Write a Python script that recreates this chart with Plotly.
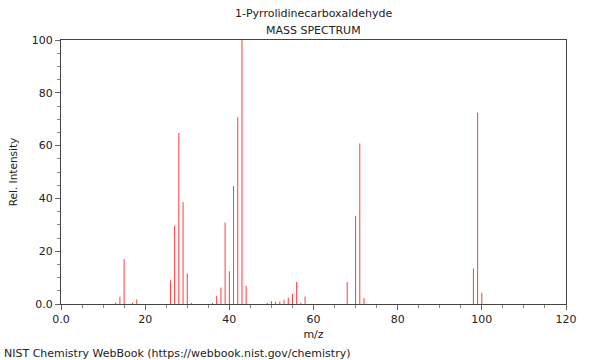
import plotly.graph_objects as go

mz = [13, 14, 15, 17, 18, 26, 27, 28, 29, 30, 31, 36, 37, 38, 39, 40, 41, 42, 43, 44,
      49, 50, 51, 52, 53, 54, 55, 56, 57, 58, 68, 70, 71, 72, 98, 99, 100]
intensity = [0.6, 2.8, 17.0, 0.5, 1.7, 9.0, 29.7, 64.8, 38.6, 11.6, 0.4, 0.4, 3.1, 6.2, 30.8,
             12.4, 44.7, 70.8, 100.0, 6.9, 0.4, 1.1, 0.9, 1.0, 1.6, 2.4, 3.8, 8.3, 0.5, 2.8,
             8.3, 33.4, 60.8, 2.3, 13.4, 72.5, 4.3]

x_ticks = [0, 20, 40, 60, 80, 100, 120]
x_labels = ["0.0", "20", "40", "60", "80", "100", "120"]
y_ticks = [0, 20, 40, 60, 80, 100]
y_labels = ["0.0", "20", "40", "60", "80", "100"]

xs, ys = [], []
for m, v in zip(mz, intensity):
    xs += [m, m, None]
    ys += [0, v, None]

FONT = "DejaVu Sans"
FS = 11
fig = go.Figure()
fig.add_trace(go.Scatter(x=xs, y=ys, mode="lines",
                         line=dict(color="rgb(255,60,60)", width=1),
                         hoverinfo="skip", showlegend=False))

axis_common = dict(showline=True, linecolor="#444", linewidth=1, mirror=True,
                   showgrid=False, zeroline=False, ticks="outside", ticklen=5,
                   tickcolor="#666", tickfont=dict(family=FONT, size=FS, color="#222"))

fig.update_xaxes(range=[0, 120], tickvals=x_ticks, ticktext=x_labels,
                 minor=dict(dtick=5, tick0=0, ticks="outside", ticklen=3, tickcolor="#888"),
                 title=dict(text="m/z", font=dict(family=FONT, size=FS, color="#222"), standoff=5),
                 **axis_common)
fig.update_yaxes(range=[0, 100], tickvals=y_ticks, ticktext=y_labels,
                 minor=dict(dtick=5, tick0=0, ticks="outside", ticklen=3, tickcolor="#888"),
                 title=dict(text="Rel. Intensity", font=dict(family=FONT, size=10.5, color="#222"), standoff=12),
                 **axis_common)

fig.update_layout(
    width=600, height=360,
    margin=dict(l=61, r=34, t=40, b=56),
    paper_bgcolor="white", plot_bgcolor="white",
    font=dict(family=FONT, color="#222"),
    annotations=[
        dict(text="1-Pyrrolidinecarboxaldehyde", xref="paper", yref="paper", x=0.5, y=1,
             yshift=27, xanchor="center", yanchor="middle", showarrow=False,
             font=dict(family=FONT, size=FS, color="#222")),
        dict(text="MASS SPECTRUM", xref="paper", yref="paper", x=0.5, y=1,
             yshift=10, xanchor="center", yanchor="middle", showarrow=False,
             font=dict(family=FONT, size=FS, color="#222")),
        dict(text="NIST Chemistry WebBook (https://webbook.nist.gov/chemistry)",
             xref="paper", yref="paper", x=0, y=0, xshift=-59, yshift=-49,
             xanchor="left", yanchor="middle", showarrow=False,
             font=dict(family=FONT, size=FS, color="#222")),
    ],
)

fig.write_html("out.html", config={"displayModeBar": False},
               post_script="document.body.style.margin='0';document.body.style.padding='0';")
